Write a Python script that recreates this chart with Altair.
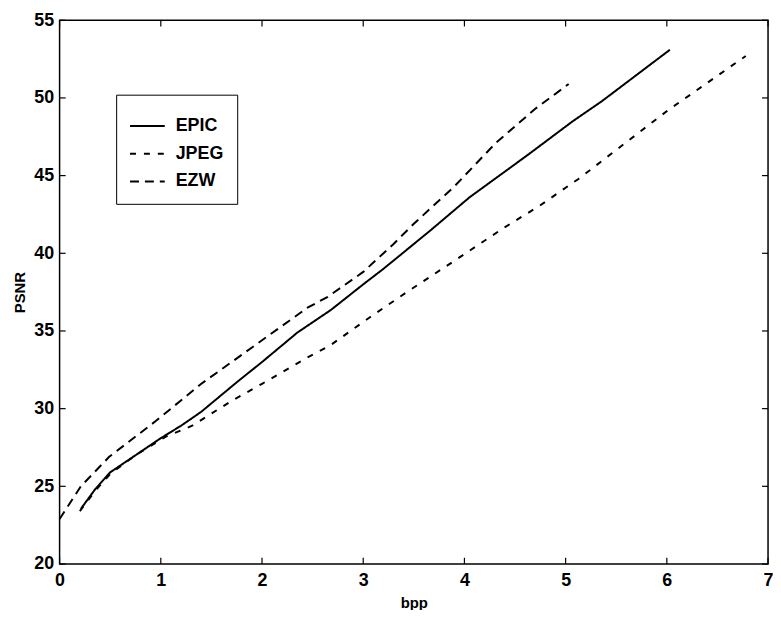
import altair as alt
import pandas as pd

# EPIC (solid)
epic_x = [0.21, 0.35, 0.5, 0.75, 1.0, 1.2, 1.4, 1.76, 2.0, 2.35, 2.68, 3.0, 3.2, 3.66, 4.05, 4.64, 5.07, 5.36, 6.03]
epic_y = [23.55, 24.8, 25.9, 27.0, 28.1, 28.9, 29.8, 31.75, 33.0, 34.9, 36.35, 38.0, 39.0, 41.45, 43.6, 46.4, 48.5, 49.8, 53.1]

# JPEG (lower dashed)
jpeg_x = [0.2, 0.35, 0.5, 0.75, 1.05, 1.31, 1.7, 2.0, 2.45, 2.68, 3.07, 3.43, 3.99, 4.38, 4.74, 5.13, 5.49, 5.81, 6.01, 6.78]
jpeg_y = [23.4, 24.7, 25.8, 27.0, 28.2, 28.9, 30.5, 31.6, 33.3, 34.1, 35.9, 37.5, 39.9, 41.6, 43.05, 44.8, 46.6, 48.2, 49.2, 52.7]

# EZW (upper dashed)
ezw_x = [0.0, 0.21, 0.49, 0.95, 1.4, 2.0, 2.45, 2.65, 3.0, 3.3, 3.5, 3.9, 4.31, 4.7, 5.03]
ezw_y = [22.9, 25.0, 26.9, 29.2, 31.6, 34.4, 36.5, 37.2, 38.8, 40.6, 41.9, 44.3, 47.1, 49.3, 50.9]

series = ["EPIC", "JPEG", "EZW"]
dashes = [[1, 0], [6, 8], [9, 6]]

x_ticks = [0, 1, 2, 3, 4, 5, 6, 7]
y_ticks = [20, 25, 30, 35, 40, 45, 50, 55]

rows = []
for name, xs, ys in [("EPIC", epic_x, epic_y), ("JPEG", jpeg_x, jpeg_y), ("EZW", ezw_x, ezw_y)]:
    for i, (a, b) in enumerate(zip(xs, ys)):
        rows.append({"series": name, "bpp": a, "psnr": b, "order": i})
df = pd.DataFrame(rows)

FONT = "Liberation Sans"
xscale = alt.Scale(domain=[0, 7], nice=False, zero=False)
yscale = alt.Scale(domain=[20, 55], nice=False, zero=False)

lines = alt.Chart(df).mark_line(color="black", strokeWidth=2).encode(
    x=alt.X("bpp:Q", scale=xscale,
            axis=alt.Axis(values=x_ticks, format="d", labelFlush=False, title="bpp", tickSize=0,
                          domain=False, grid=False, labelPadding=8, titlePadding=6)),
    y=alt.Y("psnr:Q", scale=yscale,
            axis=alt.Axis(values=y_ticks, format="d", labelFlush=False, title="PSNR", tickSize=0,
                          domain=False, grid=False, labelPadding=6, titlePadding=6)),
    strokeDash=alt.StrokeDash("series:N",
                              scale=alt.Scale(domain=series, range=dashes),
                              legend=alt.Legend(title=None, orient="none", legendX=57, legendY=75,
                                                symbolType="stroke", symbolSize=1225,
                                                symbolStrokeWidth=2, symbolStrokeColor="black",
                                                labelFontSize=18, labelFont=FONT,
                                                labelFontWeight="bold", labelColor="black",
                                                labelOffset=10, rowPadding=-7, padding=13,
                                                strokeColor="black", fillColor="white")),
    order="order:Q",
)

xt = pd.DataFrame({"t": x_ticks})
yt = pd.DataFrame({"t": y_ticks})

tick_style = dict(color="black", strokeWidth=1.2)
bottom = alt.Chart(xt).mark_rule(**tick_style).encode(
    x=alt.X("t:Q", scale=xscale), y=alt.datum(20), y2=alt.datum(20.4))
top = alt.Chart(xt).mark_rule(**tick_style).encode(
    x=alt.X("t:Q", scale=xscale), y=alt.datum(55), y2=alt.datum(54.6))
left = alt.Chart(yt).mark_rule(**tick_style).encode(
    y=alt.Y("t:Q", scale=yscale), x=alt.datum(0), x2=alt.datum(0.06))
right = alt.Chart(yt).mark_rule(**tick_style).encode(
    y=alt.Y("t:Q", scale=yscale), x=alt.datum(7), x2=alt.datum(6.94))

chart = alt.layer(lines, bottom, top, left, right).properties(
    width=714, height=548,
    autosize=alt.AutoSizeParams(type="none"),
    padding={"left": 52, "top": 10, "right": 5, "bottom": 44},
    background="white",
).configure_view(
    stroke="black", strokeWidth=1.5
).configure_axis(
    labelFont=FONT, labelFontSize=18, labelFontWeight="bold", labelColor="black",
    titleFont=FONT, titleFontSize=15, titleFontWeight="bold", titleColor="black",
)

chart.save("out.html", embed_options={"renderer": "svg", "actions": False})
